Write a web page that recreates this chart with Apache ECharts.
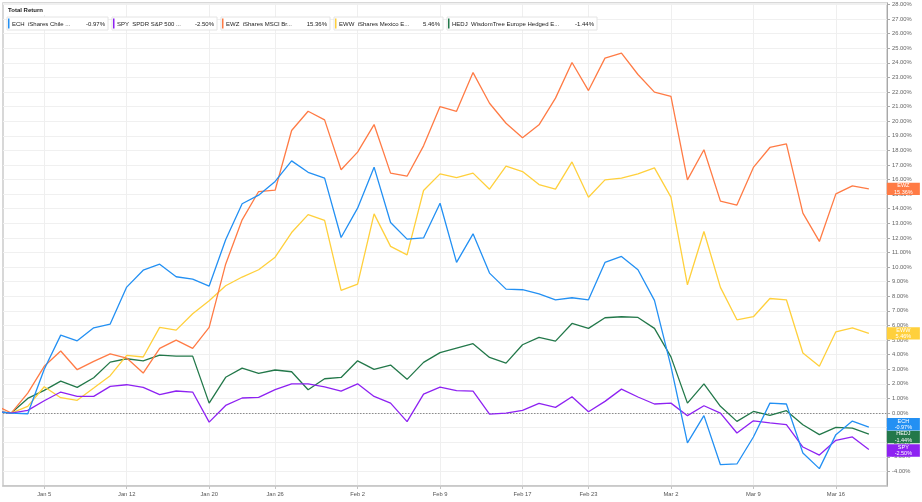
<!DOCTYPE html>
<html><head><meta charset="utf-8">
<script src="https://cdn.jsdelivr.net/npm/echarts@6/dist/echarts.min.js"></script>
<style>html,body{margin:0;padding:0;background:#fff}#c{width:922px;height:502px}</style>
</head><body><div id="c"></div>
<script>
// ---- data ----
const dates = ['Dec 30','Dec 31','Jan 2',
 'Jan 5','Jan 6','Jan 7','Jan 8','Jan 9',
 'Jan 12','Jan 13','Jan 14','Jan 15','Jan 16',
 'Jan 20','Jan 21','Jan 22','Jan 23',
 'Jan 26','Jan 27','Jan 28','Jan 29','Jan 30',
 'Feb 2','Feb 3','Feb 4','Feb 5','Feb 6',
 'Feb 9','Feb 10','Feb 11','Feb 12','Feb 13',
 'Feb 17','Feb 18','Feb 19','Feb 20',
 'Feb 23','Feb 24','Feb 25','Feb 26','Feb 27',
 'Mar 2','Mar 3','Mar 4','Mar 5','Mar 6',
 'Mar 9','Mar 10','Mar 11','Mar 12','Mar 13',
 'Mar 16','Mar 17','Mar 18'];
const tickLabels = ['Jan 5','Jan 12','Jan 20','Jan 26','Feb 2','Feb 9','Feb 17','Feb 23','Mar 2','Mar 9','Mar 16'];

const ECH  = [0.1, 0, -0.05, 3.0, 5.34, 4.95, 5.84, 6.1, 8.63, 9.79, 10.2, 9.34, 9.18, 8.7, 11.87, 14.34, 14.93, 15.87, 17.28, 16.5, 16.1, 12.03, 14.04, 16.85, 13.06, 11.92, 12.0, 14.38, 10.32, 12.28, 9.59, 8.49, 8.45, 8.17, 7.76, 7.9, 7.76, 10.32, 10.73, 9.82, 7.72, 3.2, -2.05, -0.18, -3.54, -3.49, -1.64, 0.68, 0.62, -2.74, -3.81, -1.48, -0.55, -0.97];
const SPY  = [0.12, 0, 0.18, 0.84, 1.44, 1.14, 1.14, 1.83, 1.94, 1.76, 1.26, 1.51, 1.44, -0.62, 0.52, 1.03, 1.07, 1.6, 2.0, 2.0, 1.8, 1.5, 2.0, 1.14, 0.68, -0.59, 1.3, 1.78, 1.53, 1.5, -0.07, 0, 0.18, 0.66, 0.39, 1.12, 0.09, 0.8, 1.64, 1.1, 0.62, 0.68, -0.18, 0.5, 0, -1.37, -0.53, -0.68, -0.8, -2.33, -2.88, -1.87, -1.64, -2.5];
const EWZ  = [0.55, 0, 1.37, 3.2, 4.25, 2.97, 3.54, 4.06, 3.77, 2.74, 4.43, 5.0, 4.43, 5.87, 10.2, 13.24, 15.18, 15.27, 19.36, 20.68, 20.09, 16.67, 17.88, 19.77, 16.44, 16.23, 18.31, 21.0, 20.68, 23.33, 21.23, 19.86, 18.86, 19.75, 21.58, 24.02, 22.1, 24.32, 24.66, 23.2, 21.99, 21.7, 15.98, 18.04, 14.52, 14.25, 16.83, 18.2, 18.45, 13.7, 11.76, 15.02, 15.57, 15.36];
const EWW  = [0.15, 0, 0.46, 1.8, 1.05, 0.87, 1.71, 2.56, 3.95, 3.84, 5.87, 5.68, 6.8, 7.69, 8.72, 9.32, 9.82, 10.68, 12.37, 13.6, 13.2, 8.4, 8.84, 13.65, 11.42, 10.84, 15.25, 16.39, 16.14, 16.44, 15.34, 16.92, 16.55, 15.66, 15.34, 17.21, 14.79, 15.98, 16.1, 16.39, 16.8, 14.8, 8.79, 12.44, 8.61, 6.39, 6.6, 7.85, 7.76, 4.11, 3.2, 5.57, 5.84, 5.46];
const HEDJ = [0.12, 0, 1.0, 1.55, 2.19, 1.76, 2.42, 3.49, 3.72, 3.58, 3.97, 3.9, 3.9, 0.68, 2.45, 3.08, 2.72, 2.95, 2.83, 1.6, 2.35, 2.44, 3.58, 2.99, 3.29, 2.31, 3.47, 4.14, 4.45, 4.75, 3.81, 3.42, 4.68, 5.18, 4.93, 6.14, 5.8, 6.53, 6.6, 6.55, 5.8, 3.85, 0.68, 2.0, 0.46, -0.57, 0.11, -0.16, 0.16, -0.8, -1.48, -0.98, -1.03, -1.44];

const tickers = ['ECH','SPY','EWZ','EWW','HEDJ'];
const names = ['iShares Chile ...','SPDR S&P 500 ...','iShares MSCI Br...','iShares Mexico E...','WisdomTree Europe Hedged E...'];
const legendValues = ['-0.97%','-2.50%','15.36%','5.46%','-1.44%'];
const endValues = ['-0.97%','-2.50%','15.36%','5.46%','-1.44%'];
const seriesValues = [ECH, SPY, EWZ, EWW, HEDJ];

// ---- styles / layout ----
const colors = ['#2390f3','#8e22f2','#ff7b45','#ffd03c','#23784a'];
const endLabelShift = [-3, 1, 0, 0, 3];
const legendBoxes = [[7,101],[112,105],[221,109],[334,109],[447,150]];
const FONT = 'Liberation Sans, Arial, sans-serif';

const tickPos = tickLabels.map(l => dates.indexOf(l) - 1);
const posToLabel = {};
tickPos.forEach((p, i) => posToLabel[p] = tickLabels[i]);

const chart = echarts.init(document.getElementById('c'), null, {renderer: 'canvas'});

const series = seriesValues.map((vals, k) => ({
  name: tickers[k],
  type: 'line',
  data: vals.map((v, i) => [i - 1, v]),
  showSymbol: false,
  symbol: 'none',
  clip: true,
  z: 10 - k,
  lineStyle: {color: colors[k], width: 1.3},
  itemStyle: {color: colors[k]},
  endLabel: {
    show: true,
    distance: 18,
    offset: [0, endLabelShift[k]],
    backgroundColor: colors[k],
    padding: [0, 0],
    formatter: '{a|' + tickers[k] + '}\n{a|' + endValues[k] + '}',
    rich: {a: {width: 33, align: 'center', color: '#fff', fontSize: 5.5, lineHeight: 6.2, fontFamily: FONT}}
  },
  markLine: k === 0 ? {
    silent: true, symbol: 'none', label: {show: false}, z: 1,
    lineStyle: {color: '#8c8c8c', type: [1.5, 1.5], width: 1},
    data: [{yAxis: 0}]
  } : undefined
}));

const graphics = [
  {type: 'rect', shape: {x: 5, y: 5, width: 42, height: 10}, style: {fill: '#fff'}, z: 100},
  {type: 'text', x: 8, y: 10, style: {text: 'Total Return', fill: '#222', font: 'bold 6px ' + FONT, textVerticalAlign: 'middle'}, z: 101}
];
legendBoxes.forEach(([bx, bw], k) => {
  graphics.push({type: 'rect', shape: {x: bx, y: 17, width: bw, height: 13}, style: {fill: '#fff', stroke: '#e4e4e4', lineWidth: 1}, z: 101});
  graphics.push({type: 'rect', shape: {x: bx + 1, y: 18.5, width: 1.5, height: 10}, style: {fill: colors[k]}, z: 102});
  graphics.push({type: 'text', x: bx + 5, y: 24, style: {text: tickers[k] + '  ' + names[k], fill: '#222', font: '6px ' + FONT, textVerticalAlign: 'middle'}, z: 102});
  graphics.push({type: 'text', x: bx + bw - 3, y: 24, style: {text: legendValues[k], fill: '#222', font: '6px ' + FONT, textAlign: 'right', textVerticalAlign: 'middle'}, z: 102});
});

chart.setOption({
  animation: false,
  backgroundColor: '#fff',
  grid: {left: 3, right: 35, top: 3, bottom: 16, show: true, borderColor: '#cccccc', borderWidth: 1.5},
  xAxis: {
    type: 'value', min: -0.5, max: 53.1,
    axisLine: {show: true, onZero: false, lineStyle: {color: '#c4c4c4', width: 1.5}},
    axisTick: {show: true, customValues: tickPos, length: 3, lineStyle: {color: '#c4c4c4'}},
    axisLabel: {customValues: tickPos, formatter: v => posToLabel[Math.round(v)] || '', fontSize: 5.8, color: '#555', margin: 5, fontFamily: FONT},
    splitLine: {show: true, lineStyle: {color: '#efefef', width: 1}}
  },
  yAxis: {
    type: 'value', position: 'right', min: -5, max: 28.1, interval: 1,
    axisLine: {show: true, onZero: false, lineStyle: {color: '#a8a8a8', width: 1}},
    axisTick: {show: true, length: 3, lineStyle: {color: '#a8a8a8'}},
    axisLabel: {formatter: v => v.toFixed(2) + '%', fontSize: 5.8, color: '#666', margin: 5, fontFamily: FONT, showMinLabel: false},
    splitLine: {show: true, lineStyle: {color: '#f0f0f0', width: 1}}
  },
  series: series,
  graphic: graphics
});
</script></body></html>
